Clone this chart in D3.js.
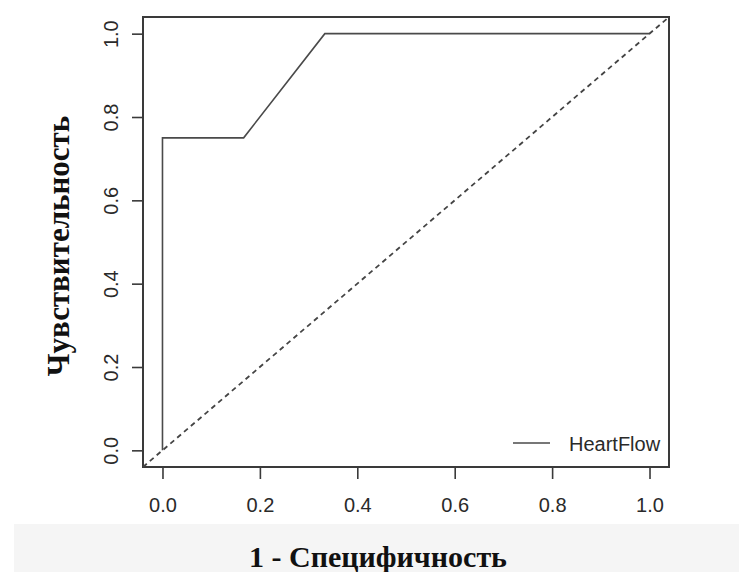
<!DOCTYPE html>
<html>
<head>
<meta charset="utf-8">
<script src="https://cdn.jsdelivr.net/npm/d3@7"></script>
<style>
  html, body { margin: 0; padding: 0; background: #fff; }
  svg { display: block; }
</style>
</head>
<body>
<script>
// ROC curve points: false positive rate (1 - specificity) vs sensitivity
const fpr = [0, 0, 1 / 6, 1 / 3, 1];
const tpr = [0, 0.75, 0.75, 1, 1];
const xTicks = [0, 0.2, 0.4, 0.6, 0.8, 1.0];
const yTicks = [0, 0.2, 0.4, 0.6, 0.8, 1.0];
const seriesName = "HeartFlow";
const xTitle = "1 - Специфичность";
const yTitle = "Чувствительность";

const W = 739, H = 572;
const box = { left: 143, right: 669, top: 17, bottom: 467 };

const svg = d3.select("body").append("svg")
  .attr("width", W).attr("height", H);

// faint grey band behind the x-axis title
svg.append("rect")
  .attr("x", 14).attr("y", 524).attr("width", W - 14).attr("height", H - 524)
  .attr("fill", "#f5f5f5");

// R-style 4% padding around [0, 1]
const x = d3.scaleLinear().domain([-0.04, 1.04]).range([box.left, box.right]);
const y = d3.scaleLinear().domain([-0.04, 1.04]).range([box.bottom, box.top]);

const ink = "#3a3a3a";
const sans = "'Liberation Sans', Arial, sans-serif";
const serif = "'Liberation Serif', 'Times New Roman', serif";

// axes
const xAxis = d3.axisBottom(x).tickValues(xTicks).tickFormat(d3.format(".1f"))
  .tickSize(12).tickPadding(19);
const yAxis = d3.axisLeft(y).tickValues(yTicks).tickFormat(d3.format(".1f"))
  .tickSize(11);

const gx = svg.append("g").attr("transform", `translate(0,${box.bottom})`).call(xAxis);
gx.select(".domain").remove();
gx.selectAll(".tick line").attr("stroke", ink).attr("stroke-width", 1.6);
gx.selectAll(".tick text")
  .attr("font-family", sans)
  .attr("font-size", 20).attr("fill", "#2a2a2a");

const gy = svg.append("g").attr("transform", `translate(${box.left},0)`).call(yAxis);
gy.select(".domain").remove();
gy.selectAll(".tick line").attr("stroke", ink).attr("stroke-width", 1.6);
// rotated y labels: centred on the tick, baseline left of the tick mark
gy.selectAll(".tick text")
  .attr("font-family", sans)
  .attr("font-size", 20).attr("fill", "#2a2a2a")
  .attr("text-anchor", "middle")
  .attr("dy", null)
  .attr("x", 0).attr("y", 0)
  .attr("transform", "translate(-25,0) rotate(-90)");

// plot frame
svg.append("rect")
  .attr("x", box.left).attr("y", box.top)
  .attr("width", box.right - box.left).attr("height", box.bottom - box.top)
  .attr("fill", "none").attr("stroke", ink).attr("stroke-width", 2);

// chance diagonal across the whole panel
svg.append("line")
  .attr("x1", x(-0.04)).attr("y1", y(-0.04))
  .attr("x2", x(1.04)).attr("y2", y(1.04))
  .attr("stroke", "#444").attr("stroke-width", 1.8)
  .attr("stroke-dasharray", "5,4");

// ROC curve
const line = d3.line().x((d, i) => x(fpr[i])).y((d, i) => y(tpr[i]));
svg.append("path")
  .datum(fpr)
  .attr("d", line)
  .attr("fill", "none").attr("stroke", "#4a4a4a").attr("stroke-width", 1.6);

// legend
svg.append("line")
  .attr("x1", 513).attr("x2", 550).attr("y1", 443).attr("y2", 443)
  .attr("stroke", "#4a4a4a").attr("stroke-width", 1.6);
svg.append("text")
  .attr("x", 569).attr("y", 451)
  .attr("font-family", sans)
  .attr("font-size", 20).attr("fill", "#2a2a2a")
  .text(seriesName);

// axis titles
svg.append("text")
  .attr("x", 378).attr("y", 567)
  .attr("text-anchor", "middle")
  .attr("font-family", serif)
  .attr("font-weight", "bold").attr("font-size", 30).attr("fill", "#111")
  .text(xTitle);

svg.append("text")
  .attr("transform", "translate(69,246) rotate(-90)")
  .attr("text-anchor", "middle")
  .attr("font-family", serif)
  .attr("font-weight", "bold").attr("font-size", 31).attr("fill", "#111")
  .text(yTitle);
</script>
</body>
</html>
